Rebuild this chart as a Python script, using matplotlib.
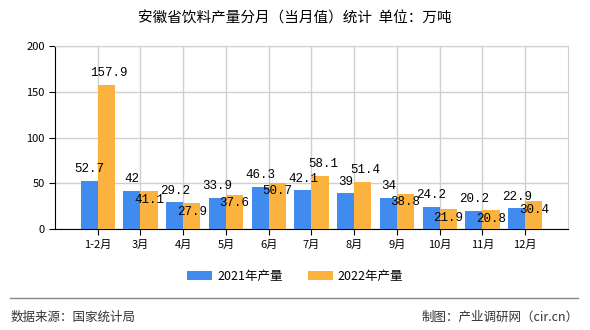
import matplotlib
matplotlib.use('Agg')
import matplotlib.pyplot as plt
import numpy as np

plt.rcParams['font.family'] = ['Noto Sans CJK SC', 'DejaVu Sans']

months = ['1-2月', '3月', '4月', '5月', '6月', '7月', '8月', '9月', '10月', '11月', '12月']
out_2021 = [52.7, 42, 29.2, 33.9, 46.3, 42.1, 39, 34, 24.2, 20.2, 22.9]
out_2022 = [157.9, 41.1, 27.9, 37.6, 50.7, 58.1, 51.4, 38.8, 21.9, 20.8, 30.4]
yticks = [0, 50, 100, 150, 200]

blue = '#428BEE'
orange = '#FBB23F'
mono = ['Liberation Mono', 'DejaVu Sans Mono']

fig = plt.figure(figsize=(5.9, 3.3), dpi=100)
ax = fig.add_axes([0.0932, 0.306, 0.8695, 0.5546])

x = np.arange(len(months))
w = 0.4
ax.bar(x - w / 2, out_2021, w, color=blue, label='2021年产量', zorder=3)
ax.bar(x + w / 2, out_2022, w, color=orange, label='2022年产量', zorder=3)

for i in range(len(months)):
    b, o = out_2021[i], out_2022[i]
    ax.annotate(f'{b:g}', (x[i] - w / 2, b), xytext=(0, 4), textcoords='offset points',
                ha='center', va='bottom', fontsize=9, family=mono, zorder=5)
    if o - b > 10:
        ax.annotate(f'{o:g}', (x[i] + w / 2, o), xytext=(2, 4), textcoords='offset points',
                    ha='center', va='bottom', fontsize=9, family=mono, zorder=5)
    else:
        ax.annotate(f'{o:g}', (x[i] + w / 2, o), xytext=(0, -2), textcoords='offset points',
                    ha='center', va='top', fontsize=9, family=mono, zorder=5)

ax.set_xlim(-1, len(months))
ax.set_ylim(0, 200)
ax.set_yticks(yticks)
ax.set_xticks(x)
ax.set_xticklabels(months, fontsize=8)
ax.tick_params(axis='y', labelsize=8, length=4)
ax.tick_params(axis='x', length=4)
ax.grid(True, color='#d0d0d0', linewidth=1, zorder=0)
for s in ['top', 'right']:
    ax.spines[s].set_color('#d0d0d0')
ax.spines['left'].set_color('black')
ax.spines['bottom'].set_color('black')

fig.text(0.5, 0.945, '安徽省饮料产量分月（当月值）统计  单位：万吨', ha='center', va='center', fontsize=10.5)
fig.legend(loc='center', bbox_to_anchor=(0.5, 0.163), ncol=2, frameon=False, fontsize=9,
           handlelength=2, handleheight=0.7, columnspacing=2.0, handletextpad=0.4)
fig.add_artist(plt.Line2D([0.017, 0.98], [0.097, 0.097], color='#888888', linewidth=1))
fig.text(0.017, 0.04, '数据来源：国家统计局', ha='left', va='center', fontsize=9, color='#333333')
fig.text(0.98, 0.04, '制图：产业调研网（cir.cn）', ha='right', va='center', fontsize=9, color='#333333')

fig.savefig('out.png', dpi=100)
